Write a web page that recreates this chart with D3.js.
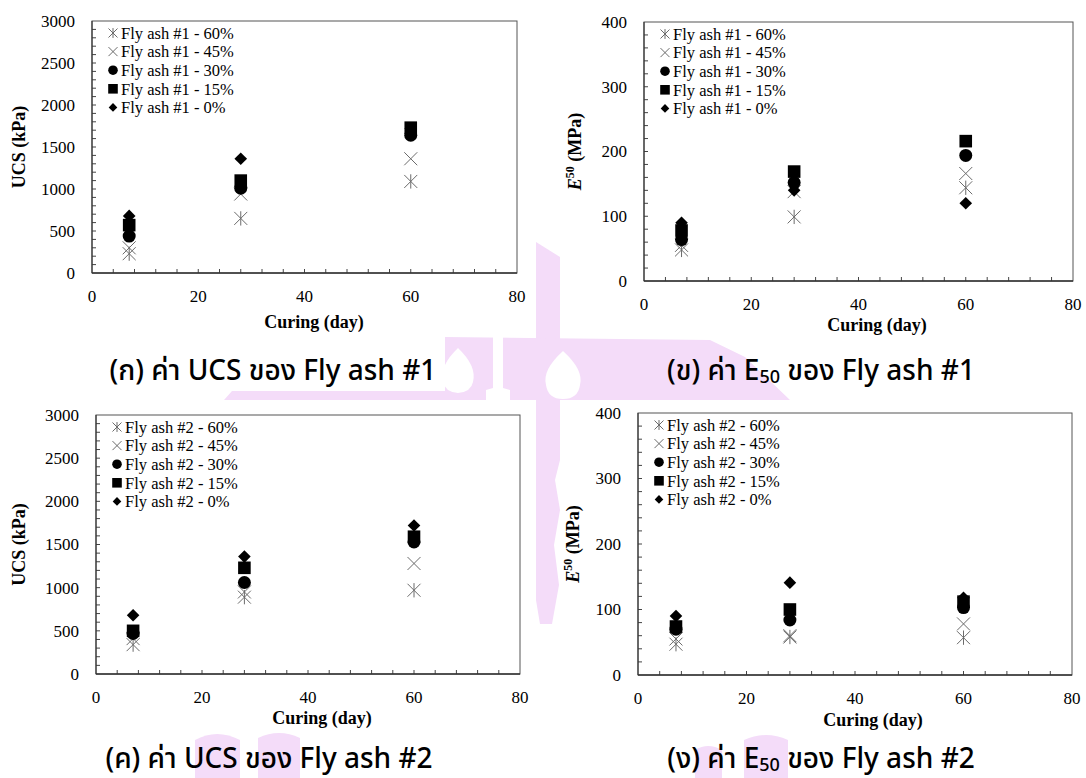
<!DOCTYPE html>
<html lang="th">
<head>
<meta charset="utf-8">
<title>UCS and E50 vs curing time</title>
<script src="https://d3js.org/d3.v7.min.js"></script>
<style>
  body { margin: 0; background: #fff; }
  svg text { font-family: "Liberation Serif", "Times New Roman", serif; fill: #000; }
  svg text.caption { font-family: "Noto Sans Thai", "Noto Sans", "DejaVu Sans", sans-serif; }
</style>
</head>
<body>
<svg id="chart" width="1086" height="778"></svg>
<script>
// curing time (days) and mixes
var days = [7, 28, 60];
var mixLabels = ["60%", "45%", "30%", "15%", "0%"];
var markerTypes = ["asterisk", "cross", "circle", "square", "diamond"];

// one row per mix (same order as mixLabels), one value per curing day
var ucsAsh1 = [[230, 650, 1090], [300, 940, 1360], [440, 1010, 1640], [570, 1100, 1730], [680, 1360, 1720]];
var e50Ash1 = [[48, 99, 144], [55, 138, 166], [64, 152, 194], [78, 169, 216], [90, 140, 120]];
var ucsAsh2 = [[340, 890, 970], [410, 950, 1280], [470, 1060, 1530], [500, 1230, 1590], [680, 1360, 1720]];
var e50Ash2 = [[47, 58, 57], [55, 60, 78], [70, 84, 103], [74, 100, 112], [90, 141, 118]];

var dayTicks = [0, 20, 40, 60, 80];
var ucsTicks = [0, 500, 1000, 1500, 2000, 2500, 3000];
var e50Ticks = [0, 100, 200, 300, 400];

var svg = d3.select("#chart");

// ---- faint watermark behind the figures ----
var wm = svg.append("g").attr("class", "watermark");
var pink = "#f4dcf9";
var wmShapes = [
  "M536,242 L560,257 L560,460 L555,480 L560,510 L554,545 L559,585 L552,624 L540,624 L536,600 Z",
  "M445,337 L710,340 L745,357 L790,400 L224,400 L232,391 L445,391 Z",
  "M195,740 Q217,728 240,740 L240,778 L195,778 Z",
  "M258,738 Q279,728 300,738 L300,778 L258,778 Z",
  "M695,750 Q708,742 722,750 L722,778 L695,778 Z",
  "M744,740 Q766,730 788,740 L788,778 L744,778 Z"
];
wm.selectAll("path.pk").data(wmShapes).enter().append("path")
  .attr("class", "pk").attr("d", function(d) { return d; }).attr("fill", pink);
var wmHoles = [
  "M458,348 Q477,366 473,382 Q471,392 458,393 Q445,392 443,382 Q439,366 458,348 Z",
  "M493,337 L503,337 L503,388 L510,390 L510,400 L486,400 L486,390 L493,388 Z",
  "M563,351 Q584,370 580,385 Q578,399 563,399 Q548,399 546,385 Q542,370 563,351 Z"
];
wm.selectAll("path.hole").data(wmHoles).enter().append("path")
  .attr("class", "hole").attr("d", function(d) { return d; }).attr("fill", "#fff");

// ---- panel layout ----
var panels = [
  { values: ucsAsh1, ash: "#1", ticks: ucsTicks, minor: 100, left: 92, right: 517, top: 21, bottom: 273,
    yTitle: "ucs", yTitleX: 19, xTitle: [314, 328], caption: ["(ก) ค่า UCS ของ Fly ash #1"], capPos: [273, 380] },
  { values: e50Ash1, ash: "#1", ticks: e50Ticks, minor: 20, left: 644, right: 1073, top: 22, bottom: 281,
    yTitle: "e50", yTitleX: 575, xTitle: [877, 331], caption: ["(ข) ค่า E", "50", " ของ Fly ash #1"], capPos: [821, 380] },
  { values: ucsAsh2, ash: "#2", ticks: ucsTicks, minor: 100, left: 96, right: 520, top: 415, bottom: 674,
    yTitle: "ucs", yTitleX: 19, xTitle: [322, 724], caption: ["(ค) ค่า UCS ของ Fly ash #2"], capPos: [269, 768] },
  { values: e50Ash2, ash: "#2", ticks: e50Ticks, minor: 20, left: 638, right: 1072, top: 413, bottom: 675,
    yTitle: "e50", yTitleX: 573, xTitle: [873, 726], caption: ["(ง) ค่า E", "50", " ของ Fly ash #2"], capPos: [821, 768] }
];

function markerPath(type, s) {
  var p = d3.path();
  if (type === "circle") {
    p.moveTo(s, 0); p.arc(0, 0, s, 0, 2 * Math.PI);
  } else if (type === "square") {
    p.rect(-s, -s, 2 * s, 2 * s);
  } else if (type === "diamond") {
    p.moveTo(0, -s); p.lineTo(s, 0); p.lineTo(0, s); p.lineTo(-s, 0); p.closePath();
  } else {
    p.moveTo(-s, -s); p.lineTo(s, s); p.moveTo(s, -s); p.lineTo(-s, s);
    if (type === "asterisk") { p.moveTo(0, -s * 1.1); p.lineTo(0, s * 1.1); }
  }
  return p.toString();
}

function styleMarker(sel, type) {
  if (type === "cross" || type === "asterisk") {
    sel.attr("fill", "none").attr("stroke", "#6b6b6b").attr("stroke-width", 1);
  } else {
    sel.attr("fill", "#000");
  }
}

// plot markers are a bit bigger than the legend ones
var plotSize = { asterisk: 6.5, cross: 6.5, circle: 6.5, square: 6.3, diamond: 6.3 };
var legendSize = { asterisk: 4.5, cross: 4.5, circle: 4.8, square: 4.8, diamond: 4.3 };

panels.forEach(function(pn) {
  var x = d3.scaleLinear().domain([0, 80]).range([pn.left, pn.right]);
  var yMax = pn.ticks[pn.ticks.length - 1];
  var y = d3.scaleLinear().domain([0, yMax]).range([pn.bottom, pn.top]);
  var g = svg.append("g");

  // frame
  g.append("rect")
    .attr("x", pn.left).attr("y", pn.top)
    .attr("width", pn.right - pn.left).attr("height", pn.bottom - pn.top)
    .attr("fill", "none").attr("stroke", "#555").attr("stroke-width", 1);

  // inner ticks
  g.selectAll("line.xt").data(d3.range(4, 80, 4)).enter().append("line")
    .attr("x1", function(d) { return x(d); }).attr("x2", function(d) { return x(d); })
    .attr("y1", pn.bottom).attr("y2", pn.bottom - 4)
    .attr("stroke", "#444");
  g.selectAll("line.yt").data(d3.range(pn.minor, yMax, pn.minor)).enter().append("line")
    .attr("x1", pn.left).attr("x2", pn.left + 4)
    .attr("y1", function(d) { return y(d); }).attr("y2", function(d) { return y(d); })
    .attr("stroke", "#444");
  // darker bottom/left axis lines
  g.append("line").attr("x1", pn.left).attr("x2", pn.right).attr("y1", pn.bottom).attr("y2", pn.bottom)
    .attr("stroke", "#333").attr("stroke-width", 1.3);
  g.append("line").attr("x1", pn.left).attr("x2", pn.left).attr("y1", pn.top).attr("y2", pn.bottom)
    .attr("stroke", "#333").attr("stroke-width", 1.1);

  // tick labels
  g.selectAll("text.xl").data(dayTicks).enter().append("text")
    .attr("x", function(d) { return x(d); }).attr("y", pn.bottom + 29)
    .attr("text-anchor", "middle").style("font-size", "17px")
    .text(function(d) { return d; });
  g.selectAll("text.yl").data(pn.ticks).enter().append("text")
    .attr("x", pn.left - 17).attr("y", function(d) { return y(d); })
    .attr("dy", "0.35em").attr("text-anchor", "end").style("font-size", "17px")
    .text(function(d) { return d; });

  // axis titles
  g.append("text").attr("x", pn.xTitle[0]).attr("y", pn.xTitle[1])
    .attr("text-anchor", "middle").style("font-size", "18px").style("font-weight", "bold")
    .text("Curing (day)");
  var cy = (pn.top + pn.bottom) / 2;
  var yt = g.append("text")
    .attr("transform", "translate(" + (pn.yTitleX + 6) + "," + cy + ") rotate(-90)")
    .attr("text-anchor", "middle").style("font-size", "18px").style("font-weight", "bold");
  if (pn.yTitle === "ucs") {
    yt.text("UCS (kPa)");
  } else {
    yt.append("tspan").style("font-style", "italic").text("E");
    yt.append("tspan").attr("dy", -7).style("font-size", "12px").text("50");
    yt.append("tspan").attr("dy", 7).text(" (MPa)");
  }

  // data markers, mix by mix
  pn.values.forEach(function(row, i) {
    var type = markerTypes[i];
    var pts = g.selectAll(null).data(row).enter().append("path")
      .attr("d", markerPath(type, plotSize[type]))
      .attr("transform", function(d, j) { return "translate(" + x(days[j]) + "," + y(d) + ")"; });
    styleMarker(pts, type);
  });

  // legend
  var lg = g.append("g");
  mixLabels.forEach(function(lab, i) {
    var ly = pn.top + 12 + i * 18.6;
    var type = markerTypes[i];
    var m = lg.append("path").attr("d", markerPath(type, legendSize[type]))
      .attr("transform", "translate(" + (pn.left + 21) + "," + ly + ")");
    styleMarker(m, type);
    lg.append("text").attr("x", pn.left + 29).attr("y", ly).attr("dy", "0.35em")
      .style("font-size", "16.5px").text("Fly ash " + pn.ash + " - " + lab);
  });

  // caption under the panel
  var cap = svg.append("text").attr("class", "caption")
    .attr("x", pn.capPos[0]).attr("y", pn.capPos[1])
    .attr("text-anchor", "middle").style("font-size", "28px").style("font-weight", "500");
  cap.append("tspan").text(pn.caption[0]);
  if (pn.caption.length > 1) {
    cap.append("tspan").attr("dy", 3).style("font-size", "18px").text(pn.caption[1]);
    cap.append("tspan").attr("dy", -3).text(pn.caption[2]);
  }
});
</script>
</body>
</html>
